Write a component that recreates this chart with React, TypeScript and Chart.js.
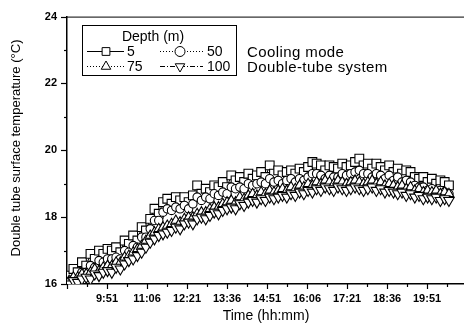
import React, { useEffect, useRef } from 'react';
import { Chart, registerables } from 'chart.js';
import { drawPoint } from 'chart.js/helpers';

Chart.register(...registerables);

const TIMES = [
  '8:40', '8:48', '8:56', '9:04', '9:12', '9:20', '9:28', '9:36', '9:44', '9:52',
  '10:00', '10:08', '10:16', '10:24', '10:32', '10:40', '10:48', '10:56', '11:04', '11:12',
  '11:20', '11:28', '11:36', '11:44', '11:52', '12:00', '12:08', '12:16', '12:24', '12:32',
  '12:40', '12:48', '12:56', '13:04', '13:12', '13:20', '13:28', '13:36', '13:44', '13:52',
  '14:00', '14:08', '14:16', '14:24', '14:32', '14:40', '14:48', '14:56', '15:04', '15:12',
  '15:20', '15:28', '15:36', '15:44', '15:52', '16:00', '16:08', '16:16', '16:24', '16:32',
  '16:40', '16:48', '16:56', '17:04', '17:12', '17:20', '17:28', '17:36', '17:44', '17:52',
  '18:00', '18:08', '18:16', '18:24', '18:32', '18:40', '18:48', '18:56', '19:04', '19:12',
  '19:20', '19:28', '19:36', '19:44', '19:52', '20:00', '20:08', '20:16', '20:24', '20:32',
];

const DEPTH_5 = [
  16.25, 16.45, 16.35, 16.65, 16.55, 16.9, 16.75, 17.0, 16.9, 17.05,
  17.0, 17.1, 16.95, 17.3, 17.2, 17.45, 17.3, 17.7, 17.6, 17.95,
  18.25, 18.1, 18.45, 18.55, 18.4, 18.6, 18.5, 18.6, 18.45, 18.65,
  18.95, 18.7, 18.85, 18.75, 18.95, 18.9, 19.05, 18.9, 19.25, 19.1,
  19.2, 19.05, 19.3, 19.15, 19.25, 19.35, 19.2, 19.55, 19.3, 19.4,
  19.25, 19.35, 19.4, 19.3, 19.45, 19.35, 19.5, 19.65, 19.6, 19.55,
  19.4, 19.55, 19.5, 19.45, 19.6, 19.5, 19.55, 19.65, 19.75, 19.55,
  19.6, 19.45, 19.6, 19.5, 19.4, 19.55, 19.35, 19.45, 19.3, 19.4,
  19.35, 19.2, 19.15, 19.2, 19.05, 19.15, 19.0, 19.1, 19.05, 18.95,
];

const DEPTH_50 = [
  16.0, 16.15, 16.15, 16.35, 16.35, 16.55, 16.5, 16.7, 16.65, 16.75,
  16.75, 16.8, 16.75, 17.0, 16.95, 17.15, 17.1, 17.4, 17.4, 17.65,
  17.9, 17.9, 18.15, 18.25, 18.2, 18.3, 18.25, 18.35, 18.25, 18.4,
  18.6, 18.5, 18.6, 18.55, 18.7, 18.65, 18.75, 18.7, 18.9, 18.85,
  18.9, 18.85, 19.0, 18.95, 19.0, 19.05, 19.0, 19.15, 19.05, 19.1,
  19.0, 19.1, 19.15, 19.05, 19.15, 19.1, 19.2, 19.3, 19.3, 19.25,
  19.15, 19.25, 19.2, 19.2, 19.3, 19.25, 19.3, 19.35, 19.4, 19.3,
  19.3, 19.2, 19.3, 19.25, 19.15, 19.25, 19.1, 19.2, 19.05, 19.1,
  19.05, 18.95, 18.9, 18.9, 18.8, 18.85, 18.75, 18.8, 18.75, 18.7,
];

const DEPTH_75 = [
  16.1, 16.2, 16.2, 16.3, 16.3, 16.35, 16.45, 16.4, 16.5, 16.55,
  16.55, 16.65, 16.65, 16.8, 16.85, 16.95, 17.05, 17.15, 17.3, 17.45,
  17.55, 17.65, 17.7, 17.75, 17.8, 17.9, 17.85, 17.95, 18.0, 18.0,
  18.1, 18.15, 18.15, 18.25, 18.3, 18.3, 18.4, 18.45, 18.5, 18.45,
  18.6, 18.55, 18.65, 18.7, 18.65, 18.75, 18.7, 18.8, 18.75, 18.8,
  18.85, 18.8, 18.9, 18.85, 18.95, 18.9, 19.0, 18.95, 19.05, 19.0,
  19.1, 19.05, 19.0, 19.1, 19.05, 19.0, 19.05, 19.1, 19.05, 19.0,
  19.05, 19.1, 19.0, 19.05, 18.95, 19.0, 18.95, 18.9, 18.95, 18.85,
  18.9, 18.8, 18.85, 18.75, 18.8, 18.75, 18.8, 18.7, 18.75, 18.7,
];

const DEPTH_100 = [
  16.0, 16.1, 16.05, 16.15, 16.2, 16.15, 16.3, 16.25, 16.35, 16.4,
  16.35, 16.5, 16.45, 16.6, 16.7, 16.75, 16.85, 16.95, 17.1, 17.25,
  17.35, 17.45, 17.5, 17.55, 17.6, 17.7, 17.65, 17.8, 17.85, 17.8,
  17.95, 18.0, 17.95, 18.05, 18.15, 18.1, 18.2, 18.25, 18.3, 18.25,
  18.4, 18.35, 18.45, 18.5, 18.45, 18.55, 18.5, 18.6, 18.55, 18.6,
  18.65, 18.6, 18.7, 18.65, 18.75, 18.7, 18.8, 18.75, 18.85, 18.8,
  18.9, 18.85, 18.8, 18.9, 18.85, 18.8, 18.85, 18.9, 18.85, 18.8,
  18.85, 18.9, 18.8, 18.85, 18.75, 18.8, 18.75, 18.7, 18.75, 18.65,
  18.7, 18.6, 18.65, 18.55, 18.6, 18.55, 18.6, 18.5, 18.55, 18.5,
];

const SERIES_NAMES = ['5', '50', '75', '100'];
const X_TICK_LABELS = ['8:36', '9:51', '11:06', '12:21', '13:36', '14:51', '16:06', '17:21', '18:36', '19:51'];
const X_RANGE = ['8:36', '21:49'];
const Y_TICKS = [16, 18, 20, 22, 24];
const Y_TITLE = 'Double tube surface temperature (\u00B0C)';
const X_TITLE = 'Time (hh:mm)';
const LEGEND_TITLE = 'Depth (m)';
const NOTE_LINES = ['Cooling mode', 'Double-tube system'];

const toMin = (s: string) => {
  const [h, m] = s.split(':').map(Number);
  return h * 60 + m;
};

const FONT = 'Arial, "Liberation Sans", sans-serif';

const STYLES = [
  { pointStyle: 'rect', radius: 6.2, rotation: 0, dash: [] as number[] },
  { pointStyle: 'circle', radius: 4.2, rotation: 0, dash: [1, 2] },
  { pointStyle: 'triangle', radius: 5.5, rotation: 0, dash: [1, 2] },
  { pointStyle: 'triangle', radius: 6, rotation: 180, dash: [5, 2, 1, 2] },
];

const decorPlugin = {
  id: 'decor',
  afterDraw(chart: any) {
    const { ctx, chartArea: a, scales } = chart;
    const xs = scales.x;
    const ys = scales.y;
    ctx.save();
    ctx.strokeStyle = '#000';
    ctx.fillStyle = '#000';
    ctx.lineWidth = 1;
    ctx.beginPath();
    ctx.moveTo(a.left, a.top + 0.5);
    ctx.lineTo(a.right, a.top + 0.5);
    ctx.stroke();
    ctx.lineWidth = 1.2;
    for (let v = ys.min; v <= ys.max; v += 1) {
      const y = Math.round(ys.getPixelForValue(v)) + 0.5;
      const major = Y_TICKS.includes(v);
      ctx.beginPath();
      ctx.moveTo(a.left - (major ? 6 : 3), y);
      ctx.lineTo(a.left, y);
      ctx.stroke();
    }
    const majors = X_TICK_LABELS.map(toMin);
    xs.ticks.forEach((t: any) => {
      const x = Math.round(xs.getPixelForValue(t.value)) + 0.5;
      const major = majors.includes(t.value);
      ctx.beginPath();
      ctx.moveTo(x, a.bottom);
      ctx.lineTo(x, a.bottom + (major ? 5 : 3));
      ctx.stroke();
    });
    ctx.textBaseline = 'middle';
    ctx.textAlign = 'center';
    ctx.font = `14px ${FONT}`;
    ctx.fillText(X_TITLE, 266, 316);
    ctx.font = `13px ${FONT}`;
    ctx.save();
    ctx.translate(16, 148);
    ctx.rotate(-Math.PI / 2);
    ctx.fillText(Y_TITLE, 0, 0);
    ctx.restore();

    ctx.lineWidth = 1;
    ctx.strokeRect(82.5, 25.5, 154, 50);
    ctx.font = `14px ${FONT}`;
    ctx.textAlign = 'center';
    ctx.fillText(LEGEND_TITLE, 153, 37);
    const cells = [
      { x0: 87, x1: 124, cx: 106, tx: 127, y: 51 },
      { x0: 160, x1: 203, cx: 180, tx: 207, y: 51 },
      { x0: 87, x1: 124, cx: 106, tx: 127, y: 66 },
      { x0: 160, x1: 203, cx: 180, tx: 207, y: 66 },
    ];
    cells.forEach((c, i) => {
      const st = STYLES[i];
      ctx.save();
      ctx.lineWidth = 1;
      ctx.setLineDash(st.dash);
      ctx.beginPath();
      ctx.moveTo(c.x0, c.y + 0.5);
      ctx.lineTo(c.x1, c.y + 0.5);
      ctx.stroke();
      ctx.setLineDash([]);
      ctx.fillStyle = '#fff';
      drawPoint(ctx, { pointStyle: st.pointStyle, radius: i === 1 ? 5 : Math.min(st.radius, 5.5), rotation: st.rotation, borderWidth: 1 } as any, c.cx, c.y + 0.5);
      ctx.restore();
      ctx.textAlign = 'left';
      ctx.fillText(SERIES_NAMES[i], c.tx, c.y + 1);
    });
    ctx.textAlign = 'left';
    ctx.font = `15px ${FONT}`;
    (ctx as any).letterSpacing = '0.4px';
    ctx.fillText(NOTE_LINES[0], 247, 53);
    ctx.fillText(NOTE_LINES[1], 247, 68);
    (ctx as any).letterSpacing = '0px';
    ctx.restore();
  },
};

export default function App() {
  const ref = useRef<HTMLCanvasElement>(null);
  useEffect(() => {
    if (!ref.current) return;
    const seriesData = [DEPTH_5, DEPTH_50, DEPTH_75, DEPTH_100];
    const datasets = seriesData.map((vals, i) => ({
      label: SERIES_NAMES[i],
      data: vals.map((y, j) => ({ x: toMin(TIMES[j]), y })),
      borderColor: '#000',
      borderWidth: 1,
      borderDash: STYLES[i].dash,
      pointStyle: STYLES[i].pointStyle as any,
      pointRadius: STYLES[i].radius,
      pointRotation: STYLES[i].rotation,
      pointBackgroundColor: '#fff',
      pointBorderColor: '#000',
      pointBorderWidth: 1.1,
      fill: false,
      tension: 0,
      order: 3 - i,
    }));
    const majors = X_TICK_LABELS.map(toMin);
    const chart = new Chart(ref.current, {
      type: 'line',
      data: { datasets },
      options: {
        responsive: false,
        animation: false,
        events: [],
        layout: { padding: { left: 0, top: 14, right: 10, bottom: 0 } },
        plugins: { legend: { display: false }, tooltip: { enabled: false } },
        scales: {
          x: {
            type: 'linear',
            min: toMin(X_RANGE[0]),
            max: toMin(X_RANGE[1]),
            afterFit: (s: any) => { s.height = 44; },
            afterBuildTicks: (s: any) => {
              const ticks: any[] = [];
              const step = majors[1] - majors[0];
              majors.forEach((m) => {
                ticks.push({ value: m });
                ticks.push({ value: m + step / 2 });
              });
              const last = majors[majors.length - 1];
              ticks.push({ value: last + step });
              ticks.push({ value: last + step * 1.5 });
              s.ticks = ticks;
            },
            grid: { display: false, drawTicks: false },
            border: { display: true, color: '#000', width: 1.5 },
            ticks: {
              autoSkip: false,
              maxRotation: 0,
              padding: 8,
              color: '#000',
              font: { family: FONT, size: 11, weight: 'bold' },
              callback: (v: any) => {
                const idx = majors.indexOf(v);
                return idx > 0 ? X_TICK_LABELS[idx] : '';
              },
            },
          },
          y: {
            type: 'linear',
            min: 16,
            max: 24,
            afterFit: (s: any) => { s.width = 67; },
            grid: { display: false, drawTicks: false },
            border: { display: true, color: '#000', width: 1.5 },
            ticks: {
              stepSize: 1,
              padding: 10,
              color: '#000',
              font: { family: FONT, size: 11, weight: 'bold' },
              callback: (v: any) => (Y_TICKS.includes(v) ? String(v) : ''),
            },
          },
        },
      },
      plugins: [decorPlugin],
    });
    return () => chart.destroy();
  }, []);
  return (
    <div style={{ position: 'absolute', left: 0, top: 0, width: 464, height: 328, overflow: 'hidden', background: '#fff' }}>
      <canvas ref={ref} width={500} height={328} style={{ display: 'block', width: 500, height: 328 }} />
    </div>
  );
}
